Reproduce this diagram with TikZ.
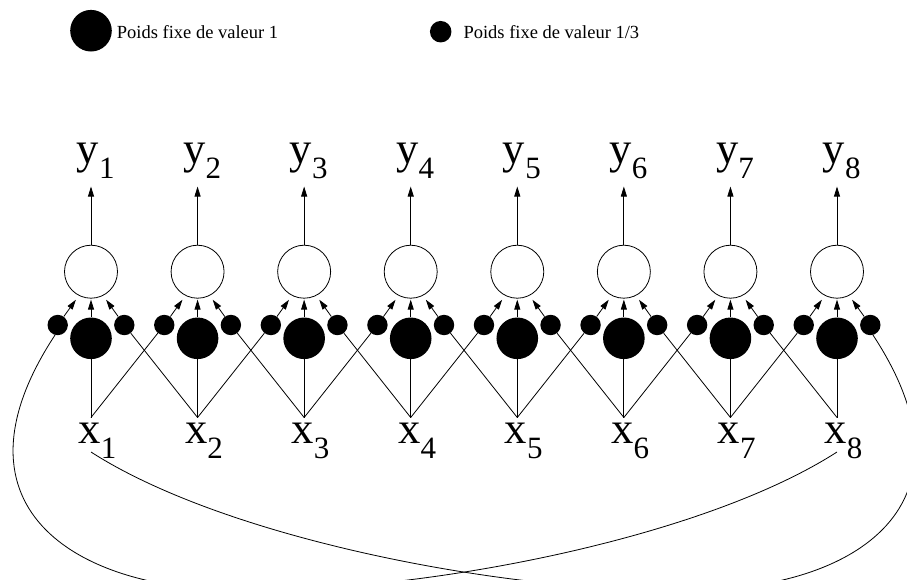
\documentclass[tikz,border=0pt]{standalone}
\usepackage{fontspec}
\setmainfont{Liberation Serif}
\usetikzlibrary{arrows.meta}
\newcommand{\mylab}[2]{{\fontsize{44.6}{44.6}\selectfont #1}{\fontsize{31}{31}\selectfont\raisebox{-15pt}{#2}}}
\begin{document}
\begin{tikzpicture}[x=1pt,y=-1pt,
  wire/.style={line width=0.8pt},
  arr/.style={line width=0.8pt,-{Triangle[length=10pt,width=6pt]}},
  neuron/.style={circle,draw,line width=0.8pt,minimum size=53pt,inner sep=0pt},
  bigw/.style={circle,fill=black,minimum size=41.6pt,inner sep=0pt},
  smallw/.style={circle,fill=black,minimum size=20.4pt,inner sep=0pt},
  lab/.style={inner sep=0pt,anchor=base west},
  legtext/.style={inner sep=0pt,anchor=base west,font=\fontsize{18.5}{18.5}\selectfont}]
\useasboundingbox (0,0) rectangle (907,579);
\clip (0,0) rectangle (907,579);
% legend
\node[bigw] (lg1) at (91,30.7) {};
\node[smallw,minimum size=21.5pt] (lg2) at (440.7,31.7) {};
\node[legtext] (lt1) at (116.7,38.5) {Poids fixe de valeur 1};
\node[legtext] (lt2) at (463.3,38.5) {Poids fixe de valeur 1/3};
% columns
\foreach \i in {1,...,8} {
  \pgfmathsetmacro\xx{91+(\i-1)*106.571}
  \node[neuron] (c\i) at (\xx,271.7) {};
  \node[bigw] (b\i) at (\xx,338.3) {};
  \node[smallw] (sl\i) at (\xx-33.3,325) {};
  \node[smallw] (sr\i) at (\xx+33.3,325) {};
  \node[lab] (y\i) at (\xx-14.5,163.3) {\mylab{y}{\i}};
  \node[lab] (x\i) at (\xx-12.7,443.3) {\mylab{x}{\i}};
  \coordinate (yt\i) at (\xx,186.5);
  \coordinate (xp\i) at (\xx,417.5);
  \draw[arr] (c\i) -- (yt\i);
  \draw[arr,shorten >=1pt] (b\i) -- (c\i);
  \draw[arr,shorten >=5pt] (sl\i) -- (c\i.243);
  \draw[arr,shorten >=5pt] (sr\i) -- (c\i.297);
  \draw[wire] (xp\i) -- (b\i);
}
\foreach \i [evaluate=\i as \j using int(\i+1)] in {1,...,7} {
  \draw[wire] (xp\i) -- (sl\j);
  \draw[wire] (xp\j) -- (sr\i);
}
% wrap-around connections
\coordinate (xe1) at (91,452);
\coordinate (xe8) at (837,452);
\coordinate (lowA) at (250,590);
\coordinate (lowB) at (678,590);
\draw[wire] (sl1.255) .. controls (-60,510) and (80,594) .. (lowA)
  .. controls (420,592) and (700,540) .. (xe8);
\draw[wire] (sr8.285) .. controls (988,510) and (848,594) .. (lowB)
  .. controls (508,592) and (228,540) .. (xe1);
\end{tikzpicture}
\end{document}
